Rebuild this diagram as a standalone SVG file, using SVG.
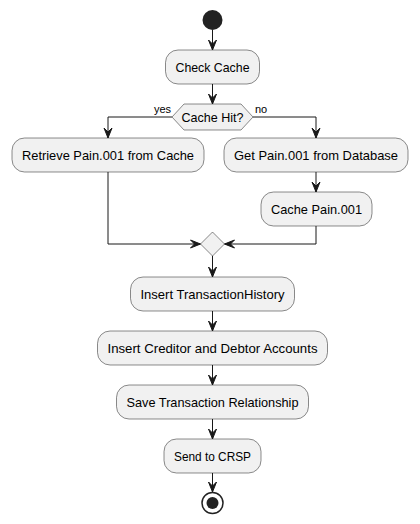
<svg xmlns="http://www.w3.org/2000/svg" width="420" height="524" viewBox="0 0 420 524">
<style>
.box{fill:#F1F1F1;stroke:#181818;stroke-width:0.5}
.t{font-family:"Liberation Sans",Arial,sans-serif;font-size:13px;fill:#000;text-anchor:middle}
.lbl{font-family:"Liberation Sans",Arial,sans-serif;font-size:11px;fill:#000}
.ln{fill:none;stroke:#181818;stroke-width:1}
.ah{fill:#181818;stroke:#181818;stroke-width:1}
</style>
<rect width="420" height="524" fill="#FFFFFF"/>
<g id="connectors">
<line class="ln" x1="212.5" y1="30" x2="212.5" y2="50"/>
<polygon class="ah" points="208.5,40 212.5,50 216.5,40 212.5,44"/>
<line class="ln" x1="212.5" y1="84" x2="212.5" y2="104"/>
<polygon class="ah" points="208.5,94 212.5,104 216.5,94 212.5,98"/>
<polyline class="ln" points="172,117 108,117 108,138"/>
<polygon class="ah" points="104,128 108,138 112,128 108,132"/>
<polyline class="ln" points="253,117 316,117 316,138"/>
<polygon class="ah" points="312,128 316,138 320,128 316,132"/>
<line class="ln" x1="316" y1="172" x2="316" y2="192"/>
<polygon class="ah" points="312,182 316,192 320,182 316,186"/>
<polyline class="ln" points="108,172 108,244 200.5,244"/>
<polygon class="ah" points="190.5,240 200.5,244 190.5,248 194.5,244"/>
<polyline class="ln" points="316,226 316,244 224.5,244"/>
<polygon class="ah" points="234.5,240 224.5,244 234.5,248 230.5,244"/>
<line class="ln" x1="212.5" y1="256" x2="212.5" y2="277"/>
<polygon class="ah" points="208.5,267 212.5,277 216.5,267 212.5,271"/>
<line class="ln" x1="212.5" y1="311" x2="212.5" y2="331"/>
<polygon class="ah" points="208.5,321 212.5,331 216.5,321 212.5,325"/>
<line class="ln" x1="212.5" y1="365" x2="212.5" y2="385"/>
<polygon class="ah" points="208.5,375 212.5,385 216.5,375 212.5,379"/>
<line class="ln" x1="212.5" y1="419" x2="212.5" y2="439"/>
<polygon class="ah" points="208.5,429 212.5,439 216.5,429 212.5,433"/>
<line class="ln" x1="212.5" y1="473" x2="212.5" y2="492"/>
<polygon class="ah" points="208.5,482 212.5,492 216.5,482 212.5,486"/>
<text class="lbl" x="154" y="113">yes</text>
<text class="lbl" x="255" y="113">no</text>
</g>
<g id="start"><circle cx="212.5" cy="20" r="10" fill="#222222"/></g>
<g id="checkCache"><rect class="box" x="165.5" y="50" width="94" height="34" rx="12.5"/><text class="t" x="212.5" y="71.5" textLength="74" lengthAdjust="spacingAndGlyphs">Check Cache</text></g>
<g id="cacheHit"><polygon class="box" points="172,117 184,104 241,104 253,117 241,130 184,130"/><text class="t" x="212.5" y="121.5" font-size="12" textLength="62" lengthAdjust="spacingAndGlyphs">Cache Hit?</text></g>
<g id="retrieve"><rect class="box" x="12" y="138" width="192" height="34" rx="12.5"/><text class="t" x="108" y="159.5" textLength="172" lengthAdjust="spacingAndGlyphs">Retrieve Pain.001 from Cache</text></g>
<g id="getDb"><rect class="box" x="224" y="138" width="184" height="34" rx="12.5"/><text class="t" x="316" y="159.5" textLength="164" lengthAdjust="spacingAndGlyphs">Get Pain.001 from Database</text></g>
<g id="cachePain"><rect class="box" x="261" y="192" width="111" height="34" rx="12.5"/><text class="t" x="316.5" y="213.5" textLength="91" lengthAdjust="spacingAndGlyphs">Cache Pain.001</text></g>
<g id="merge"><polygon class="box" points="212.5,232 224.5,244 212.5,256 200.5,244"/></g>
<g id="insertHistory"><rect class="box" x="130.5" y="277" width="164" height="34" rx="12.5"/><text class="t" x="212.5" y="298.5" textLength="144" lengthAdjust="spacingAndGlyphs">Insert TransactionHistory</text></g>
<g id="insertAccounts"><rect class="box" x="97.5" y="331" width="230" height="34" rx="12.5"/><text class="t" x="212.5" y="352.5" textLength="210" lengthAdjust="spacingAndGlyphs">Insert Creditor and Debtor Accounts</text></g>
<g id="saveRel"><rect class="box" x="116.5" y="385" width="192" height="34" rx="12.5"/><text class="t" x="212.5" y="406.5" textLength="172" lengthAdjust="spacingAndGlyphs">Save Transaction Relationship</text></g>
<g id="send"><rect class="box" x="164" y="439" width="97" height="34" rx="12.5"/><text class="t" x="212.5" y="460.5" textLength="77" lengthAdjust="spacingAndGlyphs">Send to CRSP</text></g>
<g id="end"><circle cx="212.5" cy="503" r="10.5" fill="none" stroke="#222222" stroke-width="1.5"/><circle cx="212.5" cy="503" r="6" fill="#222222"/></g>
</svg>
